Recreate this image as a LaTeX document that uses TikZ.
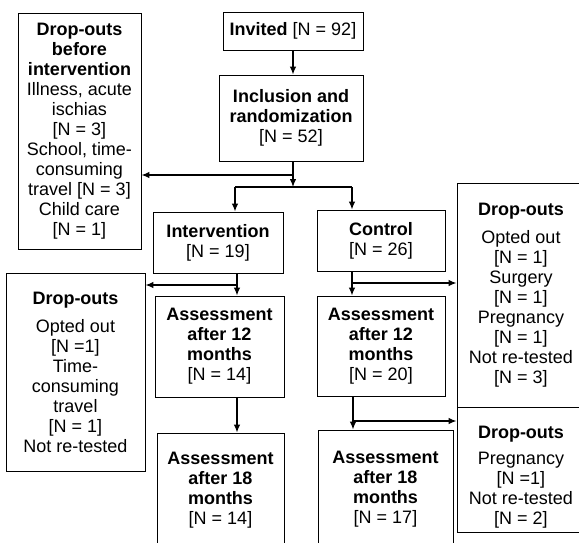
\documentclass[tikz,border=0pt]{standalone}
\usepackage{fontspec}
\setmainfont{Liberation Sans}
\usetikzlibrary{arrows.meta}

\begin{document}
\begin{tikzpicture}[x = 1pt, y = 1pt, >={Latex[length=8pt, width=6.5pt]},
  box/.style = {draw, line width = 0.9pt, align = center, inner sep = 0pt,
    font = \fontsize{18}{20}\selectfont},
  link/.style = {->, line width = 1.2pt}]

\useasboundingbox (0, 0) rectangle (579, -542);
\clip (0, 0) rectangle (579, -542);

\node[box, minimum width = 140pt, minimum height = 38pt] (invited) at (293, -31) {\textbf{Invited} [N = 92]};
\node[box, minimum width = 144pt, minimum height = 86pt] (incl) at (291, -118) {\textbf{Inclusion and}\\ \textbf{randomization}\\ {[N = 52]}};

\node[box, minimum width = 123pt, minimum height = 236pt] (dropA) at (79.5, -131) {\textbf{Drop-outs}\\ \textbf{before}\\ \textbf{intervention}\\ Illness, acute\\ ischias\\ {[N = 3]}\\ School, time-\\ consuming\\ travel [N = 3]\\ Child care\\ {[N = 1]}};

\node[box, minimum width = 130pt, minimum height = 61pt] (interv) at (218, -242.5) {\textbf{Intervention}\\ {[N = 19]}};
\node[box, minimum width = 128pt, minimum height = 61pt] (control) at (381, -240.5) {\textbf{Control}\\ {[N = 26]}};

\node[box, minimum width = 139pt, minimum height = 198pt] (dropB) at (75.5, -372) {\textbf{Drop-outs}\\[8pt] Opted out\\ {[N =1]}\\ Time-\\ consuming\\ travel\\ {[N = 1]}\\ Not re-tested};

\node[box, minimum width = 129pt, minimum height = 101pt] (ai12) at (219.5, -346.5) {\textbf{Assessment}\\ \textbf{after 12}\\ \textbf{months}\\ {[N = 14]}};
\node[box, minimum width = 127pt, minimum height = 115pt] (ai18) at (220.5, -490.5) {\textbf{Assessment}\\ \textbf{after 18}\\ \textbf{months}\\ {[N = 14]}};

\node[box, minimum width = 128pt, minimum height = 100pt] (ac12) at (381, -346) {\textbf{Assessment}\\ \textbf{after 12}\\ \textbf{months}\\ {[N = 20]}};
\node[box, minimum width = 135pt, minimum height = 118pt] (ac18) at (385.5, -489) {\textbf{Assessment}\\ \textbf{after 18}\\ \textbf{months}\\ {[N = 17]}};

\node[box, minimum width = 128pt, minimum height = 224pt] (dropC) at (521, -295) {\textbf{Drop-outs}\\[8pt] Opted out\\ {[N = 1]}\\ Surgery\\ {[N = 1]}\\ Pregnancy\\ {[N = 1]}\\ Not re-tested\\ {[N = 3]}};
\node[box, minimum width = 128pt, minimum height = 125pt] (dropD) at (521, -469.5) {\rule{0pt}{28pt}\textbf{Drop-outs}\\[6pt] Pregnancy\\ {[N =1]}\\ Not re-tested\\ {[N = 2]}};

\coordinate (outA) at (293, -175);
\coordinate (fork) at (293, -187);
\coordinate (lfork) at (235, -187);
\coordinate (rfork) at (352, -187);
\coordinate (outB) at (237, -285);
\coordinate (outC) at (352, -283);
\coordinate (outD) at (353, -421);

\draw[link] (invited.south) -- (invited.south |- incl.north);
\draw[link] (incl.south -| fork) -- (fork);
\draw[link] (outA) -- (outA -| dropA.east);
\draw[line width = 1.2pt] (lfork) -- (rfork);
\draw[link] (lfork) -- (lfork |- interv.north);
\draw[link] (rfork) -- (rfork |- control.north);

\draw[link] (interv.south -| outB) -- (outB |- ai12.north);
\draw[link] (outB) -- (outB -| dropB.east);
\draw[link] (ai12.south -| outB) -- (outB |- ai18.north);

\draw[link] (control.south -| outC) -- (outC |- ac12.north);
\draw[link] (outC) -- (outC -| dropC.west);
\draw[link] (ac12.south -| outD) -- (outD |- ac18.north);
\draw[link] (outD) -- (outD -| dropD.west);

\end{tikzpicture}
\end{document}
